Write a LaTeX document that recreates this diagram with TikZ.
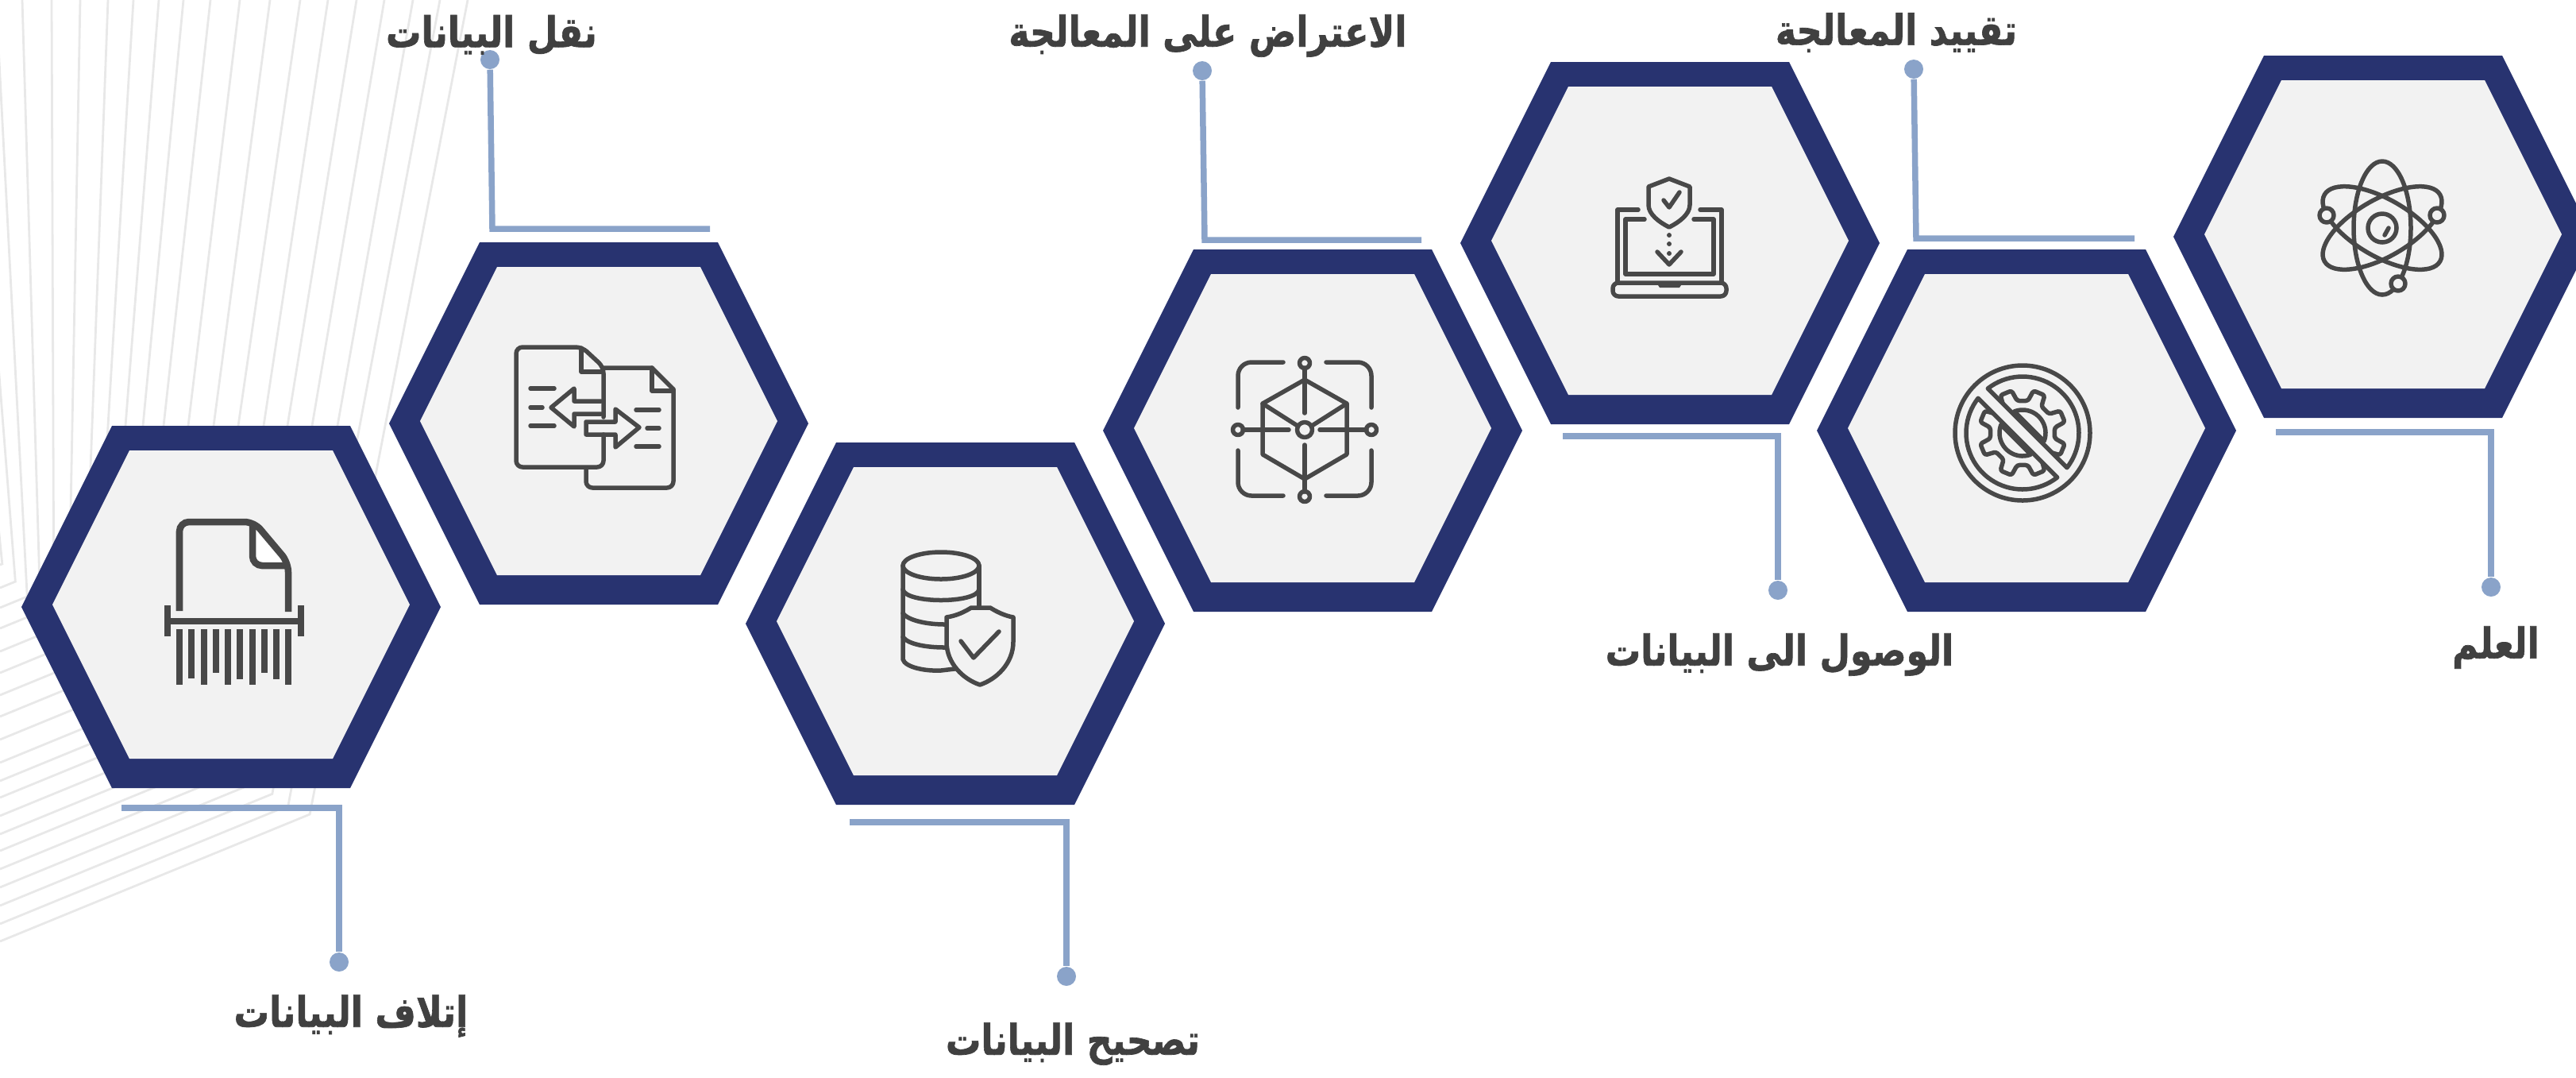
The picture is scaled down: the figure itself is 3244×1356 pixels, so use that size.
\documentclass[tikz,border=0pt]{standalone}
\usepackage{fontspec}
\newfontfamily\arabicfont[Script=Arabic,BoldFeatures={FakeBold=1.3}]{DejaVu Sans}
\TeXXeTstate=1
\tikzset{
    fanline/.style={draw=fangray,line width=0.028cm},
    linkline/.style={draw=linkblue,line width=0.075cm},
    linkdot/.style={circle,fill=linkblue,inner sep=0pt,minimum size=0.24cm},
    steplabel/.style={text=labelgray,inner sep=0pt,yscale=1.2,transform shape,font=\arabicfont\bfseries\fontsize{12.6}{14}\selectfont},
    iconline/.style={draw=icongray,line width=0.055cm,line cap=round,line join=round},
    shredline/.style={draw=icongray,line width=0.085cm},
}
\newcommand{\hexcell}[3]{
    \coordinate (#1) at (#2,#3);
    \begin{scope}[shift={(#2,#3)}]
    \fill[hexnavy] (-264,0)--(-150,-228)--(150,-228)--(264,0)--(150,228)--(-150,228)--cycle;
    \fill[hexfill] (-225,-3)--(-128,-197)--(128,-197)--(225,-3)--(128,191)--(-128,191)--cycle;
    \end{scope}
}
\begin{document}
\begin{tikzpicture}[x=0.01cm,y=-0.01cm]
    \definecolor{hexnavy}{RGB}{40,51,112}
    \definecolor{hexfill}{RGB}{242,242,242}
    \definecolor{linkblue}{RGB}{138,163,201}
    \definecolor{labelgray}{RGB}{64,64,64}
    \definecolor{icongray}{RGB}{72,72,72}
    \definecolor{fangray}{RGB}{232,232,232}
    \useasboundingbox (0,0) rectangle (3244,1356);
    %fan
    \foreach \xa/\xb/\yc in {589/485/1185,554/453/1163,520/425/1140,484/393/1117,449/362/1094,413/332/1071,378/300/1050,340/269/1027,302/237/1004,265/206/983,231/180/960,200/158/931,168/136/902,136/116/875,101/91/847,65/67/820,28/44/791,-5/23/765,-38/4/740,-70/-15/711}{
        \pgfmathsetmacro\slope{(\xb-\xa)/536}
        \pgfmathsetmacro\cy{(\yc-0.41*\xa)/(1+0.41*\slope)}
        \pgfmathsetmacro\cx{\xa+\slope*\cy}
        \draw[fanline] (\xa,0)--(\cx,\cy)--(0,\yc);
    }
    %hexagons
    \hexcell{h1}{291}{764}
    \hexcell{h2}{754}{533}
    \hexcell{h3}{1203}{785}
    \hexcell{h4}{1653}{542}
    \hexcell{h5}{2103}{306}
    \hexcell{h6}{2552}{542}
    \hexcell{h7}{3001}{298}
    %links
    \node[linkdot] (d1) at (427,1211) {};
    \node[linkdot] (d2) at (617,75) {};
    \node[linkdot] (d3) at (1343,1229) {};
    \node[linkdot] (d4) at (1514,89) {};
    \node[linkdot] (d5) at (2239,743) {};
    \node[linkdot] (d6) at (2410,87) {};
    \node[linkdot] (d7) at (3137,739) {};
    \coordinate (a1) at (153,1017);
    \coordinate (a2) at (894,288);
    \coordinate (b2) at (620,288);
    \coordinate (a3) at (1070,1035);
    \coordinate (a4) at (1790,302);
    \coordinate (b4) at (1517,302);
    \coordinate (a5) at (1968,549);
    \coordinate (a6) at (2688,300);
    \coordinate (b6) at (2413,300);
    \coordinate (a7) at (2866,544);
    \draw[linkline] (a1)-|(d1);
    \draw[linkline] (a2)--(b2)--(d2);
    \draw[linkline] (a3)-|(d3);
    \draw[linkline] (a4)--(b4)--(d4);
    \draw[linkline] (a5)-|(d5);
    \draw[linkline] (a6)--(b6)--(d6);
    \draw[linkline] (a7)-|(d7);
    %labels
    \node[steplabel] (l1) at (442,1279) {\beginR إتلاف البيانات\endR};
    \node[steplabel] (l2) at (619,44) {\beginR نقل البيانات\endR};
    \node[steplabel] (l3) at (1351,1314) {\beginR تصحيح البيانات\endR};
    \node[steplabel] (l4) at (1521,45) {\beginR الاعتراض على المعالجة\endR};
    \node[steplabel] (l5) at (2241,824) {\beginR الوصول الى البيانات\endR};
    \node[steplabel] (l6) at (2388,41) {\beginR تقييد المعالجة\endR};
    \node[steplabel] (l7) at (3143,815) {\beginR العلم\endR};
    %shredder
    \fill[white] (321,666)--(357,708)--(328,708)--(321,700)--cycle;
    \draw[shredline,rounded corners=0.12cm] (226,769)--(226,657)--(320,657)--(363,708)--(363,770);
    \draw[shredline,rounded corners=0.12cm] (318,660)--(318,712)--(363,712);
    \draw[shredline] (211,782)--(379,782);
    \draw[shredline] (211,762)--(211,801);
    \draw[shredline] (379,762)--(379,801);
    \foreach \xs/\ye in {226/862,241/854,257/862,272/847,287/862,302/855,318/862,333/847,348/855,363/862}{
        \draw[shredline] (\xs,792)--(\xs,\ye);
    }
    %documents
    \begin{scope}[iconline]
    \draw[rounded corners=0.08cm] (760,525)--(760,462)--(733,437)--(650,437)--(650,588)--(760,588)--(760,547);
    \draw (732,438)--(732,468)--(757,468);
    \draw (760,463)--(821,463)--(848,490);
    \draw[rounded corners=0.08cm] (848,490)--(848,614)--(738,614)--(738,590);
    \draw (821,463)--(821,492)--(847,492);
    \draw (668,489)--(698,489) (668,513)--(683,513) (668,536)--(698,536);
    \draw (757,505)--(723,505)--(723,489)--(694,513)--(723,537)--(723,521)--(757,521);
    \draw (805,538)--(775,515)--(775,531)--(738,531)--(738,547)--(775,547)--(775,563)--cycle;
    \draw (801,516)--(830,516) (815,539)--(830,539) (801,562)--(830,562);
    \end{scope}
    %database
    \begin{scope}[iconline]
    \draw (1185,712) ellipse [x radius=48,y radius=17];
    \draw (1137,712)--(1137,830) .. controls (1140,840) and (1165,845) .. (1185,844)--(1202,842);
    \draw (1233,712)--(1233,763);
    \draw (1137,742) .. controls (1140,760) and (1230,760) .. (1233,742);
    \draw (1137,772) .. controls (1145,782) and (1170,786) .. (1190,786);
    \draw (1137,802) .. controls (1145,812) and (1170,815) .. (1190,815);
    \draw (1192,777) .. controls (1205,775) and (1215,770) .. (1223,765)--(1247,765) .. controls (1255,770) and (1265,775) .. (1276,777)--(1276,808) .. controls (1276,835) and (1255,855) .. (1234,862) .. controls (1213,855) and (1192,835) .. (1192,808)--cycle;
    \draw (1210,807)--(1226,828)--(1258,795);
    \end{scope}
    %cube
    \begin{scope}[iconline]
    \draw (1590,508)--(1643,478)--(1696,508)--(1696,572)--(1643,603)--(1590,572)--cycle;
    \draw (1590,508)--(1634,536) (1696,508)--(1652,536);
    \draw (1643,541) circle [radius=9.5];
    \draw (1643,463)--(1643,520) (1643,560)--(1643,619);
    \draw (1565,541)--(1623,541) (1662,541)--(1721,541);
    \foreach \xn/\yn in {1643/457,1643/625,1559/541,1727/541}{
        \draw (\xn,\yn) circle [radius=6.5];
    }
    \draw[rounded corners=0.17cm] (1559,513)--(1559,456)--(1616,456);
    \draw[rounded corners=0.17cm] (1670,456)--(1727,456)--(1727,513);
    \draw[rounded corners=0.17cm] (1559,567)--(1559,624)--(1616,624);
    \draw[rounded corners=0.17cm] (1670,624)--(1727,624)--(1727,567);
    \end{scope}
    %laptop
    \begin{scope}[iconline]
    \draw (2102,225)--(2076,235)--(2076,258) .. controls (2076,270) and (2090,280) .. (2102,286) .. controls (2114,280) and (2128,270) .. (2128,258)--(2128,235)--cycle;
    \draw (2095,252)--(2102,261)--(2115,242);
    \foreach \yp in {296,307,319}{
        \fill[icongray] (2102,\yp) circle [radius=3];
    }
    \draw (2087,317)--(2102,333)--(2117,317);
    \draw (2063,264)--(2037,264)--(2037,355);
    \draw (2141,264)--(2168,264)--(2168,355);
    \draw (2071,276)--(2047,276)--(2047,345)--(2158,345)--(2158,276)--(2133,276);
    \draw[rounded corners=0.07cm] (2031,356) rectangle (2174,373);
    \fill[icongray] (2086,356)--(2090,362)--(2115,362)--(2119,356)--cycle;
    \end{scope}
    %gear
    \begin{scope}[iconline,shift={(2547,545)}]
    \draw (0,0) circle [radius=85];
    \draw plot[domain=52:218,samples=40] ({71*cos(\x)},{71*sin(\x)})--cycle;
    \draw plot[domain=232:398,samples=40] ({71*cos(\x)},{71*sin(\x)})--cycle;
    \begin{scope}
    \clip (-90,-78)--(55,67)--(-90,90)--cycle;
    \draw[rounded corners=0.03cm] (22.5-13:41) \foreach \ang in {22.5,67.5,...,360}{--(\ang-13:41)--(\ang-8:55)--(\ang+8:55)--(\ang+13:41)}--cycle;
    \end{scope}
    \begin{scope}
    \clip (-60,-71)--(85,74)--(90,-90)--(-60,-90)--cycle;
    \draw[rounded corners=0.03cm] (22.5-13:41) \foreach \ang in {22.5,67.5,...,360}{--(\ang-13:41)--(\ang-8:55)--(\ang+8:55)--(\ang+13:41)}--cycle;
    \end{scope}
    \draw plot[domain=69:201,samples=30] ({29*cos(\x)},{29*sin(\x)})--cycle;
    \draw plot[domain=249:381,samples=30] ({29*cos(\x)},{29*sin(\x)})--cycle;
    \end{scope}
    %atom
    \begin{scope}[iconline]
    \draw (3000,287) ellipse [x radius=36,y radius=84];
    \draw[rotate around={60:(3000,287)}] (3000,287) ellipse [x radius=36,y radius=84];
    \draw[rotate around={-60:(3000,287)}] (3000,287) ellipse [x radius=36,y radius=84];
    \draw (3000,287) circle [radius=18];
    \draw (3003,296)--(3008,287);
    \foreach \xe/\ye in {2930/271,3069/271,3020/357}{
        \draw[fill=hexfill] (\xe,\ye) circle [radius=9];
    }
    \end{scope}
\end{tikzpicture}
\end{document}
